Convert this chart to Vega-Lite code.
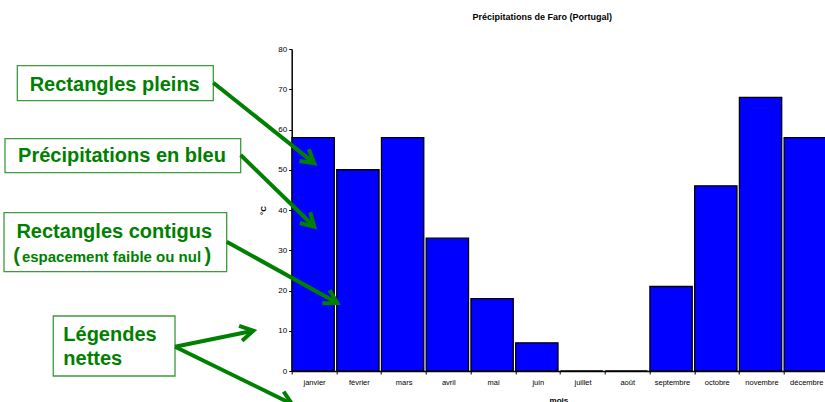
{
  "$schema": "https://vega.github.io/schema/vega-lite/v6.json",
  "width": 533.3,
  "height": 322,
  "autosize": {"type": "none"},
  "padding": {"left": 291.7, "top": 49, "right": 0, "bottom": 31},
  "background": "white",
  "title": {
    "text": "Précipitations de Faro (Portugal)",
    "font": "Liberation Sans",
    "fontSize": 9,
    "fontWeight": "bold",
    "color": "#000000",
    "anchor": "middle",
    "dx": -16,
    "offset": 16,
    "baseline": "alphabetic"
  },
  "config": {
    "view": {"stroke": null},
    "axis": {
      "grid": false,
      "labelFont": "Liberation Sans",
      "titleFont": "Liberation Sans",
      "labelColor": "#000000",
      "titleColor": "#000000",
      "domainColor": "#000000",
      "tickColor": "#000000",
      "tickSize": 3,
      "titleFontWeight": "bold",
      "domainWidth": 1.5
    },
    "axisX": {"labelFontSize": 7.5, "titleFontSize": 8, "labelPadding": 4, "titlePadding": 11},
    "axisY": {"labelFontSize": 8, "titleFontSize": 8, "labelPadding": 2, "titleX": -28, "titleBaseline": "middle"}
  },
  "datasets": {
    "pluies": [
      {"mois": "janvier", "rang": 0, "pluie": 58},
      {"mois": "février", "rang": 1, "pluie": 50},
      {"mois": "mars", "rang": 2, "pluie": 58},
      {"mois": "avril", "rang": 3, "pluie": 33},
      {"mois": "mai", "rang": 4, "pluie": 18},
      {"mois": "juin", "rang": 5, "pluie": 7},
      {"mois": "juillet", "rang": 6, "pluie": 0},
      {"mois": "août", "rang": 7, "pluie": 0},
      {"mois": "septembre", "rang": 8, "pluie": 21},
      {"mois": "octobre", "rang": 9, "pluie": 46},
      {"mois": "novembre", "rang": 10, "pluie": 68},
      {"mois": "décembre", "rang": 11, "pluie": 58}
    ],
    "cadres": [
      {"u0": -6.133, "u1": -1.752, "v0": 75.85, "v1": 67.16},
      {"u0": -6.408, "u1": -1.140, "v0": 57.71, "v1": 49.27},
      {"u0": -6.430, "u1": -1.453, "v0": 39.33, "v1": 24.67},
      {"u0": -5.329, "u1": -2.608, "v0": 13.66, "v1": -1.24}
    ],
    "grands": [
      {"texte": "Rectangles pleins", "u": -3.956, "v": 69.57},
      {"texte": "Précipitations en bleu", "u": -3.793, "v": 52.0},
      {"texte": "Rectangles contigus", "u": -3.967, "v": 33.12}
    ],
    "gauche": [
      {"texte": "Légendes", "u": -5.105, "v": 7.53},
      {"texte": "nettes", "u": -5.105, "v": 1.49}
    ],
    "petits": [
      {"texte": "espacement faible ou nul", "u": -4.028, "v": 27.16}
    ],
    "parentheses": [
      {"texte": "(", "u": -6.151, "v": 27.16},
      {"texte": ")", "u": -1.875, "v": 27.16}
    ],
    "fleches": [
      {"u1": -1.752, "v1": 71.63, "u2": 0.505, "v2": 51.60, "angle": 38.6},
      {"u1": -1.140, "v1": 53.66, "u2": 0.505, "v2": 35.85, "angle": 44.3},
      {"u1": -1.453, "v1": 32.12, "u2": 1.019, "v2": 16.89, "angle": 29.0},
      {"u1": -2.608, "v1": 6.04, "u2": -0.858, "v2": 10.01, "angle": -11.5},
      {"u1": -2.608, "v1": 6.04, "u2": 0.007, "v2": -8.20, "angle": 26.1}
    ]
  },
  "layer": [
    {
      "data": {"name": "pluies"},
      "mark": {"type": "bar", "width": 42.3, "xOffset": 21.45, "fill": "#0000FF", "stroke": "#000000", "strokeWidth": 1.3, "clip": false},
      "encoding": {
        "x": {
          "field": "rang",
          "type": "quantitative",
          "scale": {"domain": [0, 11.92], "nice": false, "zero": false, "padding": 0},
          "axis": {
            "title": "mois",
            "values": [0, 1, 2, 3, 4, 5, 6, 7, 8, 9, 10, 11],
            "labelExpr": "['janvier','février','mars','avril','mai','juin','juillet','août','septembre','octobre','novembre','décembre'][datum.value]",
            "labelOffset": 22.37,
            "labelFlush": false,
            "labelOverlap": false
          }
        },
        "y": {
          "field": "pluie",
          "type": "quantitative",
          "scale": {"domain": [0, 80], "nice": false, "padding": 0},
          "axis": {"title": "°C", "values": [0, 10, 20, 30, 40, 50, 60, 70, 80]}
        }
      }
    },
    {
      "data": {"name": "cadres"},
      "mark": {"type": "rect", "fill": "white", "stroke": "#3c9c3c", "strokeWidth": 1.3, "clip": false},
      "encoding": {
        "x": {"field": "u0", "type": "quantitative", "title": "mois"},
        "x2": {"field": "u1"},
        "y": {"field": "v0", "type": "quantitative", "title": "°C"},
        "y2": {"field": "v1"}
      }
    },
    {
      "data": {"name": "grands"},
      "mark": {"type": "text", "font": "Liberation Sans", "fontWeight": "bold", "fontSize": 20, "color": "#008000", "align": "center", "baseline": "alphabetic", "clip": false},
      "encoding": {
        "x": {"field": "u", "type": "quantitative", "title": "mois"},
        "y": {"field": "v", "type": "quantitative", "title": "°C"},
        "text": {"field": "texte"}
      }
    },
    {
      "data": {"name": "gauche"},
      "mark": {"type": "text", "font": "Liberation Sans", "fontWeight": "bold", "fontSize": 20, "color": "#008000", "align": "left", "baseline": "alphabetic", "clip": false},
      "encoding": {
        "x": {"field": "u", "type": "quantitative", "title": "mois"},
        "y": {"field": "v", "type": "quantitative", "title": "°C"},
        "text": {"field": "texte"}
      }
    },
    {
      "data": {"name": "petits"},
      "mark": {"type": "text", "font": "Liberation Sans", "fontWeight": "bold", "fontSize": 15, "color": "#008000", "align": "center", "baseline": "alphabetic", "clip": false},
      "encoding": {
        "x": {"field": "u", "type": "quantitative", "title": "mois"},
        "y": {"field": "v", "type": "quantitative", "title": "°C"},
        "text": {"field": "texte"}
      }
    },
    {
      "data": {"name": "parentheses"},
      "mark": {"type": "text", "font": "Liberation Sans", "fontWeight": "bold", "fontSize": 20, "color": "#008000", "align": "center", "baseline": "alphabetic", "clip": false},
      "encoding": {
        "x": {"field": "u", "type": "quantitative", "title": "mois"},
        "y": {"field": "v", "type": "quantitative", "title": "°C"},
        "text": {"field": "texte"}
      }
    },
    {
      "data": {"name": "fleches"},
      "mark": {"type": "rule", "color": "#008000", "strokeWidth": 4, "strokeCap": "butt", "clip": false},
      "encoding": {
        "x": {"field": "u1", "type": "quantitative", "title": "mois"},
        "y": {"field": "v1", "type": "quantitative", "title": "°C"},
        "x2": {"field": "u2"},
        "y2": {"field": "v2"}
      }
    },
    {
      "data": {"name": "fleches"},
      "mark": {"type": "point", "shape": "M -1 -0.577 L 0 0 L -1 0.577", "filled": false, "stroke": "#008000", "strokeWidth": 4, "strokeJoin": "miter", "strokeCap": "butt", "size": 676, "opacity": 1, "clip": false},
      "encoding": {
        "x": {"field": "u2", "type": "quantitative", "title": "mois"},
        "y": {"field": "v2", "type": "quantitative", "title": "°C"},
        "angle": {"field": "angle", "type": "quantitative", "scale": null}
      }
    }
  ]
}
